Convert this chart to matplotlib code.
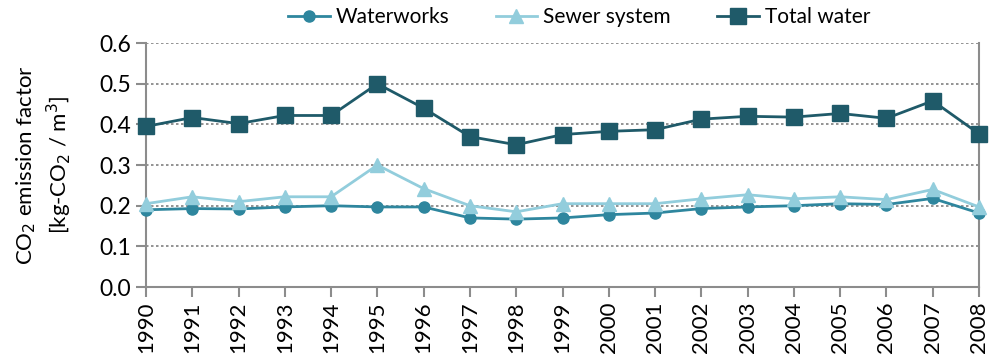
import numpy as np
import matplotlib.pyplot as plt

years = list(range(1990, 2009))
waterworks = [0.190, 0.193, 0.192, 0.197, 0.200, 0.197, 0.197, 0.170, 0.167, 0.170,
              0.178, 0.182, 0.193, 0.197, 0.200, 0.205, 0.203, 0.218, 0.182]
sewer = [0.205, 0.222, 0.210, 0.222, 0.222, 0.300, 0.242, 0.200, 0.185, 0.205,
         0.205, 0.205, 0.217, 0.227, 0.217, 0.222, 0.215, 0.240, 0.197]
total = [0.395, 0.417, 0.402, 0.422, 0.422, 0.500, 0.440, 0.370, 0.350, 0.375,
         0.383, 0.387, 0.413, 0.420, 0.418, 0.427, 0.415, 0.458, 0.377]

plt.rcParams['font.family'] = ['Lato', 'DejaVu Sans']

fig = plt.figure(figsize=(10, 3.64), dpi=100)
ax = fig.add_axes([0.146, 0.2115, 0.833, 0.670])

ax.plot(years, waterworks, color='#2e869e', marker='o', markersize=8, lw=2,
        label='Waterworks', clip_on=False, zorder=3)
ax.plot(years, sewer, color='#92cddc', marker='^', markersize=10, lw=2,
        label='Sewer system', clip_on=False, zorder=3)
ax.plot(years, total, color='#1f5a69', marker='s', markersize=11, lw=2,
        label='Total water', clip_on=False, zorder=3)

ax.set_xlim(1990, 2008)
ax.set_ylim(0, 0.6)
ax.set_xticks(years)
ax.set_xticklabels([str(y) for y in years], rotation=90, fontsize=16)
ax.set_yticks(np.arange(0, 0.61, 0.1))
ax.set_yticklabels(['%.1f' % v for v in np.arange(0, 0.61, 0.1)], fontsize=16.5)

ax.yaxis.grid(True, linestyle=(0, (1.5, 1.5)), color='#808080', lw=1.2)
ax.set_axisbelow(True)
for s in ['left', 'bottom', 'right']:
    ax.spines[s].set_color('#8c8c8c')
    ax.spines[s].set_linewidth(1.5)
ax.spines['top'].set_visible(False)
ax.tick_params(axis='both', direction='out', color='#8c8c8c', width=1.5, length=7)

ax.set_ylabel('CO$_2$ emission factor\n[kg-CO$_2$ / m$^3$]', fontsize=16, linespacing=1.3)
ax.yaxis.set_label_coords(-0.086, 0.5)

ax.legend(loc='lower center', bbox_to_anchor=(0.52, 0.99), ncol=3, frameon=False,
          fontsize=15, columnspacing=2.2, handlelength=2.0, handletextpad=0.3)

fig.savefig('out.png', dpi=100)
